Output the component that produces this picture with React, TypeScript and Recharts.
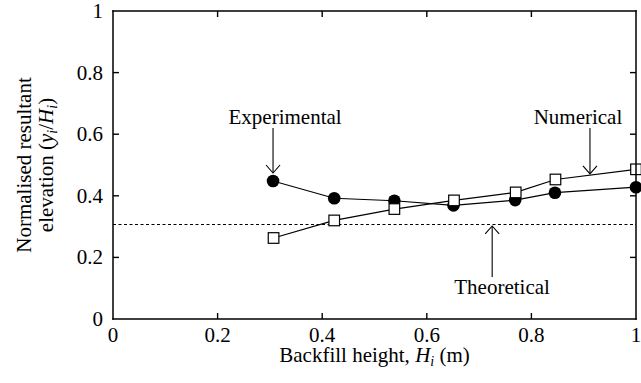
import React from 'react';
import {
  ComposedChart, Line, XAxis, YAxis, ReferenceLine, ReferenceDot, Label
} from 'recharts';

// Backfill heights (m) and normalised resultant elevations
const experimentalX = [0.306, 0.423, 0.538, 0.651, 0.769, 0.845, 1.0];
const experimentalY = [0.448, 0.392, 0.384, 0.369, 0.386, 0.41, 0.428];
const numericalX = [0.307, 0.423, 0.538, 0.652, 0.77, 0.846, 1.0];
const numericalY = [0.263, 0.32, 0.357, 0.385, 0.411, 0.453, 0.486];
const theoreticalY = 0.307;

const xTicks = [0, 0.2, 0.4, 0.6, 0.8, 1];
const yTicks = [0, 0.2, 0.4, 0.6, 0.8, 1];

// annotation: label position and arrow from -> to
const notes = [
  { text: 'Experimental', tx: 0.329, ty: 0.656, x: 0.306, from: 0.62, to: 0.474 },
  { text: 'Numerical', tx: 0.889, ty: 0.656, x: 0.912, from: 0.62, to: 0.471 },
  { text: 'Theoretical', tx: 0.744, ty: 0.104, x: 0.725, from: 0.136, to: 0.302 },
];

const experimental = experimentalX.map((x, i) => ({ x, y: experimentalY[i] }));
const numerical = numericalX.map((x, i) => ({ x, y: numericalY[i] }));

const INK = '#000';
const FONT = '"Liberation Serif", "Times New Roman", serif';
const FS = 21;
const W = 641, H = 383;
const M = { top: 11, right: 5, left: 113, bottom: 64 };
const PW = W - M.left - M.right;
const PH = H - M.top - M.bottom;
const fmt = (v: number) => (v === 0 || v === 1 ? String(v) : v.toFixed(1));

const renderBottomTick = (p: any) => (
  <text key={'bx' + p.index} x={p.x} y={p.y + 23} textAnchor="middle" fontSize={FS} fontFamily={FONT} fill={INK}>
    {fmt(p.payload.value)}
  </text>
);
const renderLeftTick = (p: any) => (
  <text key={'ly' + p.index} x={p.x - 10} y={p.y + 7} textAnchor="end" fontSize={FS} fontFamily={FONT} fill={INK}>
    {fmt(p.payload.value)}
  </text>
);

const renderCircle = (p: any) => (
  <circle key={'c' + p.index} cx={p.cx} cy={p.cy} r={6.3} fill={INK} />
);
const renderSquare = (p: any) => (
  <rect key={'s' + p.index} x={p.cx - 5.3} y={p.cy - 5.3} width={10.6} height={10.6} fill="#fff" stroke={INK} strokeWidth={1.2} />
);

const renderArrow = (p: any) => {
  const { x1, y1, x2, y2 } = p;
  const dx = x2 - x1, dy = y2 - y1;
  const len = Math.sqrt(dx * dx + dy * dy) || 1;
  const ux = dx / len, uy = dy / len;
  const a = 8, w = 7;
  return (
    <g>
      <line x1={x1} y1={y1} x2={x2} y2={y2} stroke={INK} strokeWidth={1.1} />
      <polyline
        points={`${x2 - ux * a - uy * w},${y2 - uy * a + ux * w} ${x2},${y2} ${x2 - ux * a + uy * w},${y2 - uy * a - ux * w}`}
        fill="none" stroke={INK} strokeWidth={1.1}
      />
    </g>
  );
};

const XTitle = (p: any) => {
  const vb = p.viewBox;
  const cx = vb.x + vb.width / 2;
  return (
    <text x={cx} y={vb.y + 43} textAnchor="middle" fontSize={FS} fontFamily={FONT} fill={INK}>
      Backfill height, <tspan fontStyle="italic">H</tspan>
      <tspan fontSize={14} dy={4} fontStyle="italic">i</tspan>
      <tspan dy={-4}> (m)</tspan>
    </text>
  );
};

const YTitle = (p: any) => {
  const vb = p.viewBox;
  const cy = vb.y + vb.height / 2;
  return (
    <g transform={`translate(31,${cy}) rotate(-90)`}>
      <text x={0} y={0} textAnchor="middle" fontSize={FS} fontFamily={FONT} fill={INK}>
        Normalised resultant
      </text>
      <text x={0} y={22} textAnchor="middle" fontSize={FS} fontFamily={FONT} fill={INK}>
        elevation (<tspan fontStyle="italic">y</tspan>
        <tspan fontSize={14} dy={4} fontStyle="italic">i</tspan>
        <tspan dy={-4}>/</tspan>
        <tspan fontStyle="italic">H</tspan>
        <tspan fontSize={14} dy={4} fontStyle="italic">i</tspan>
        <tspan dy={-4}>)</tspan>
      </text>
    </g>
  );
};

// frame with inward ticks on every side, drawn as filled bars so they survive any stroke quirks
const Frame = () => (
  <svg width={W} height={H} style={{ position: 'absolute', left: 0, top: 0, pointerEvents: 'none', zIndex: 5 }}>
    <rect x={M.left - 0.75} y={M.top - 0.75} width={PW + 1.5} height={1.5} fill={INK} />
    <rect x={M.left + PW - 0.75} y={M.top - 0.75} width={1.5} height={PH + 1.5} fill={INK} />
    <rect x={M.left - 0.75} y={M.top - 0.75} width={1.5} height={PH + 1.5} fill={INK} />
    <rect x={M.left - 0.75} y={M.top + PH - 0.75} width={PW + 1.5} height={1.5} fill={INK} />
    {xTicks.slice(1, -1).map(t => {
      const x = M.left + t * PW;
      return (
        <g key={'x' + t}>
          <rect x={x - 0.7} y={M.top + PH - 6} width={1.4} height={6} fill={INK} />
          <rect x={x - 0.7} y={M.top} width={1.4} height={6} fill={INK} />
        </g>
      );
    })}
    {yTicks.slice(1, -1).map(t => {
      const y = M.top + PH - t * PH;
      return (
        <g key={'y' + t}>
          <rect x={M.left} y={y - 0.7} width={6} height={1.4} fill={INK} />
          <rect x={M.left + PW - 6} y={y - 0.7} width={6} height={1.4} fill={INK} />
        </g>
      );
    })}
  </svg>
);

const App = () => (
  <div style={{ position: 'relative', width: W, height: H, background: '#fff' }}>
    <style>{`body { margin: 0; }`}</style>
    <ComposedChart width={W} height={H} margin={{ top: M.top, right: M.right, left: 0, bottom: 0 }}>
      <XAxis
        type="number" dataKey="x" domain={[0, 1]} ticks={xTicks}
        height={M.bottom} tickSize={0} tickMargin={0} tickLine={false} tick={renderBottomTick}
        axisLine={false}
      >
        <Label content={<XTitle />} position="bottom" />
      </XAxis>
      <YAxis
        type="number" domain={[0, 1]} ticks={yTicks}
        width={M.left} tickSize={0} tickMargin={0} tickLine={false} tick={renderLeftTick}
        axisLine={false}
      >
        <Label content={<YTitle />} position="left" />
      </YAxis>

      <ReferenceLine y={theoreticalY} stroke={INK} strokeWidth={1.1} strokeDasharray="3 2.5" />

      <Line
        data={experimental} dataKey="y" type="linear" stroke={INK} strokeWidth={1.2}
        dot={renderCircle} isAnimationActive={false}
      />
      <Line
        data={numerical} dataKey="y" type="linear" stroke={INK} strokeWidth={1.2}
        dot={renderSquare} isAnimationActive={false}
      />

      {notes.map(n => (
        <ReferenceLine
          key={n.text + '-arrow'}
          segment={[{ x: n.x, y: n.from }, { x: n.x, y: n.to }]}
          shape={renderArrow}
        />
      ))}
      {notes.map(n => (
        <ReferenceDot
          key={n.text}
          x={n.tx} y={n.ty} r={0}
          shape={(p: any) => (
            <text x={p.cx} y={p.cy + 7} textAnchor="middle" fontSize={FS} fontFamily={FONT} fill={INK}>
              {n.text}
            </text>
          )}
        />
      ))}
    </ComposedChart>
    <Frame />
  </div>
);

export default App;
